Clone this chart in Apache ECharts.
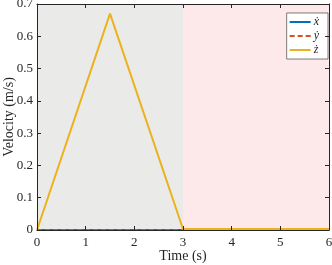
<!DOCTYPE html>
<html><head><meta charset="utf-8">
<script src="https://cdn.jsdelivr.net/npm/echarts@6/dist/echarts.min.js"></script>
<style>html,body{margin:0;padding:0;background:#fff}#c{width:332px;height:265px}</style>
</head><body><div id="c"></div>
<script>
var timeX = [0, 1.5, 3, 6];
var velX = [0, 0, 0, 0];
var velY = [0, 0, 0, 0];
var velZ = [0, 0.67, 0.003, 0.003];
var xTicks = [0, 1, 2, 3, 4, 5, 6];
var yTicks = [0, 0.1, 0.2, 0.3, 0.4, 0.5, 0.6, 0.7];
var names = ['\u1E8B', '\u1E8F', '\u017C'];

function pairs(xs, ys){ return xs.map(function(x,i){return [x, ys[i]];}); }
var font = "'Liberation Serif', 'Times New Roman', Times, serif";
var chart = echarts.init(document.getElementById('c'));
function ax(extra){
  return Object.assign({
    z:10,
    axisLine:{show:true,onZero:false,lineStyle:{color:'#262626',width:1}},
    axisTick:{show:true,inside:true,length:4,lineStyle:{color:'#262626'}},
    splitLine:{show:false},
    nameMoveOverlap:false
  }, extra);
}
chart.setOption({
  animation:false,
  grid:{left:37,right:3,top:4,bottom:35,outerBoundsMode:'none',containLabel:false},
  legend:{
    right:4,top:13,orient:'vertical',itemWidth:21,itemHeight:2,itemGap:2,
    backgroundColor:'#fff',borderColor:'#262626',borderWidth:0.6,padding:[3,9,3,2],
    textStyle:{fontFamily:font,fontStyle:'italic',fontSize:12,lineHeight:12,color:'#262626',padding:[0,0,0,-2]},
    data:[{name:names[0],icon:'rect'},{name:names[1]},{name:names[2],icon:'rect'}]
  },
  xAxis:[ax({type:'value',min:0,max:6,interval:1,
    name:'Time (s)',nameLocation:'middle',nameGap:19,
    nameTextStyle:{fontFamily:font,fontSize:14,color:'#262626'},
    axisLabel:{fontFamily:font,fontSize:13,color:'#262626',margin:6}}),
    ax({type:'value',min:0,max:6,interval:1,position:'top',axisLabel:{show:false}})],
  yAxis:[ax({type:'value',min:0,max:0.7,interval:0.1,
    name:'Velocity (m/s)',nameLocation:'middle',nameGap:21,
    nameTextStyle:{fontFamily:font,fontSize:14,color:'#262626'},
    axisLabel:{fontFamily:font,fontSize:13,color:'#262626',margin:4,formatter:function(v){return String(+v.toFixed(1));}}}),
    ax({type:'value',min:0,max:0.7,interval:0.1,position:'right',axisLabel:{show:false}})],
  series:[
    {name:names[0],type:'line',data:pairs(timeX,velX),symbol:'none',z:3,
     lineStyle:{color:'#0072BD',width:2},itemStyle:{color:'#0072BD'},
     markArea:{silent:true,itemStyle:{color:'#eaebe9'},data:[[{xAxis:0},{xAxis:3}]]}},
    {name:names[1],type:'line',data:pairs(timeX,velY),symbol:'none',z:4,
     lineStyle:{color:'#D95319',width:2,type:[5,3]},itemStyle:{color:'#D95319'},
     markArea:{silent:true,itemStyle:{color:'#fde9e9'},data:[[{xAxis:3},{xAxis:6}]]}},
    {name:names[2],type:'line',data:pairs(timeX,velZ),symbol:'none',z:5,
     lineStyle:{color:'#EDB120',width:2},itemStyle:{color:'#EDB120'}}
  ]
});
</script></body></html>
